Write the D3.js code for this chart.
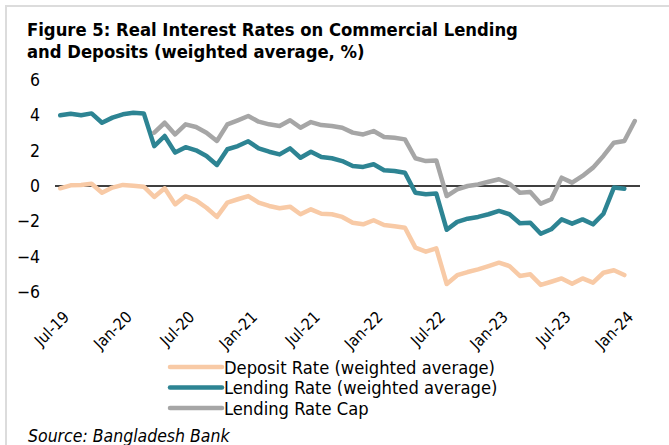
<!DOCTYPE html>
<html>
<head>
<meta charset="utf-8">
<script src="https://cdn.jsdelivr.net/npm/d3@7/dist/d3.min.js"></script>
<style>
  html, body { margin: 0; padding: 0; background: #fff; }
  svg { display: block; }
  text { font-family: "DejaVu Sans Condensed", "DejaVu Sans", sans-serif; fill: #000; }
</style>
</head>
<body>
<svg id="chart" width="669" height="445"></svg>
<script>
// Monthly observations, Jul-2019 .. Feb-2024
const months = [
  "2019-07","2019-08","2019-09","2019-10","2019-11","2019-12",
  "2020-01","2020-02","2020-03","2020-04","2020-05","2020-06",
  "2020-07","2020-08","2020-09","2020-10","2020-11","2020-12",
  "2021-01","2021-02","2021-03","2021-04","2021-05","2021-06",
  "2021-07","2021-08","2021-09","2021-10","2021-11","2021-12",
  "2022-01","2022-02","2022-03","2022-04","2022-05","2022-06",
  "2022-07","2022-08","2022-09","2022-10","2022-11","2022-12",
  "2023-01","2023-02","2023-03","2023-04","2023-05","2023-06",
  "2023-07","2023-08","2023-09","2023-10","2023-11","2023-12",
  "2024-01","2024-02"
];

// Real deposit rate (weighted average, %)
const depositRate = [
  -0.13, 0.04, 0.06, 0.13, -0.38, -0.09,
  0.06, 0.02, -0.04, -0.62, -0.13, -1.04,
  -0.57, -0.81, -1.23, -1.75, -0.94, -0.75,
  -0.57, -0.94, -1.13, -1.26, -1.17, -1.60,
  -1.32, -1.57, -1.60, -1.75, -2.08, -2.17,
  -1.94, -2.21, -2.28, -2.36, -3.49, -3.72,
  -3.53, -5.55, -5.05, -4.87, -4.72, -4.53,
  -4.34, -4.53, -5.09, -5.00, -5.60, -5.42,
  -5.23, -5.53, -5.23, -5.47, -4.91, -4.77,
  -5.04, null
];

// Real lending rate (weighted average, %)
const lendingRate = [
  4.00, 4.09, 4.00, 4.11, 3.58, 3.87,
  4.06, 4.15, 4.11, 2.26, 2.83, 1.89,
  2.20, 2.02, 1.70, 1.19, 2.08, 2.26,
  2.53, 2.13, 1.94, 1.79, 2.13, 1.60,
  1.94, 1.64, 1.57, 1.41, 1.13, 1.08,
  1.23, 0.89, 0.85, 0.75, -0.38, -0.47,
  -0.43, -2.48, -2.03, -1.85, -1.75, -1.60,
  -1.41, -1.60, -2.11, -2.08, -2.70, -2.45,
  -1.89, -2.13, -1.89, -2.17, -1.57, -0.09,
  -0.15, null
];

// Real lending rate cap (%), from Apr-2020
const lendingCap = [
  null, null, null, null, null, null,
  null, null, null, 3.02, 3.58, 2.92,
  3.49, 3.34, 3.02, 2.55, 3.49, 3.72,
  3.96, 3.64, 3.49, 3.40, 3.72, 3.30,
  3.62, 3.45, 3.40, 3.30, 3.02, 2.92,
  3.11, 2.77, 2.73, 2.64, 1.57, 1.41,
  1.45, -0.57, -0.19, 0.00, 0.09, 0.24,
  0.38, 0.13, -0.38, -0.34, -1.00, -0.75,
  0.47, 0.19, 0.57, 1.04, 1.70, 2.45,
  2.55, 3.68
];

const yTicks = [6, 4, 2, 0, -2, -4, -6];
const xTickMonths = ["2019-07","2020-01","2020-07","2021-01","2021-07","2022-01",
                     "2022-07","2023-01","2023-07","2024-01"];
const xTickLabels = ["Jul-19","Jan-20","Jul-20","Jan-21","Jul-21","Jan-22",
                     "Jul-22","Jan-23","Jul-23","Jan-24"];

const seriesNames = ["Deposit Rate (weighted average)", "Lending Rate (weighted average)", "Lending Rate Cap"];
const seriesColors = ["#f8caa6", "#2d8493", "#a6a6a6"];
const titleLines = ["Figure 5: Real Interest Rates on Commercial Lending",
                    "and Deposits (weighted average, %)"];
const sourceNote = "Source: Bangladesh Bank";

const svg = d3.select("#chart");

// light frame around the figure
svg.append("path")
  .attr("d", "M6,445 L6,6 L669,6")
  .attr("fill", "none")
  .attr("stroke", "#dcdcdc")
  .attr("stroke-width", 2);

// title
svg.append("g").selectAll("text")
  .data(titleLines)
  .join("text")
  .attr("x", 27)
  .attr("y", (d, i) => 36 + i * 22)
  .attr("font-size", 18.3)
  .attr("font-weight", "bold")
  .text(d => d);

const plot = { left: 55, right: 640, top: 80, bottom: 292 };

const x = d3.scaleBand().domain(months).range([plot.left, plot.right]);
const xc = m => x(m) + x.bandwidth() / 2;
const y = d3.scaleLinear().domain([-6, 6]).range([plot.bottom, plot.top]);

// y axis labels (no axis line)
const yAxis = d3.axisLeft(y).tickValues(yTicks).tickSize(0).tickPadding(0).tickFormat(d3.format("d"));
const yG = svg.append("g").attr("transform", `translate(40,0)`).call(yAxis);
yG.select(".domain").remove();
yG.selectAll("text").attr("font-size", 17.5).attr("font-family", null).attr("fill", "#000");

// zero line
svg.append("line")
  .attr("x1", plot.left).attr("x2", plot.right)
  .attr("y1", y(0)).attr("y2", y(0))
  .attr("stroke", "#000").attr("stroke-width", 1.5);

// rotated month labels
const xG = svg.append("g");
xG.selectAll("text")
  .data(xTickMonths)
  .join("text")
  .attr("transform", d => `translate(${xc(d) + 10},${318}) rotate(-45)`)
  .attr("text-anchor", "end")
  .attr("font-size", 16)
  .text((d, i) => xTickLabels[i]);

// series lines
const allSeries = [depositRate, lendingRate, lendingCap];
const line = d3.line()
  .defined(d => d.v != null)
  .x(d => xc(d.m))
  .y(d => y(d.v));

svg.append("g").selectAll("path")
  .data(allSeries)
  .join("path")
  .attr("d", s => line(s.map((v, i) => ({ m: months[i], v }))))
  .attr("fill", "none")
  .attr("stroke", (d, i) => seriesColors[i])
  .attr("stroke-width", 4.5)
  .attr("stroke-linejoin", "round")
  .attr("stroke-linecap", "round");

// legend
const leg = svg.append("g");
seriesNames.forEach((name, i) => {
  const ly = 367 + i * 20.5;
  leg.append("line")
    .attr("x1", 170).attr("x2", 222)
    .attr("y1", ly).attr("y2", ly)
    .attr("stroke", seriesColors[i])
    .attr("stroke-width", 4.5)
    .attr("stroke-linecap", "round");
  leg.append("text")
    .attr("x", 224).attr("y", ly)
    .attr("dy", "0.36em")
    .attr("font-size", 18.2)
    .text(name);
});

// source note
svg.append("text")
  .attr("x", 28).attr("y", 442)
  .attr("font-size", 17.5)
  .attr("font-style", "italic")
  .text(sourceNote);
</script>
</body>
</html>
